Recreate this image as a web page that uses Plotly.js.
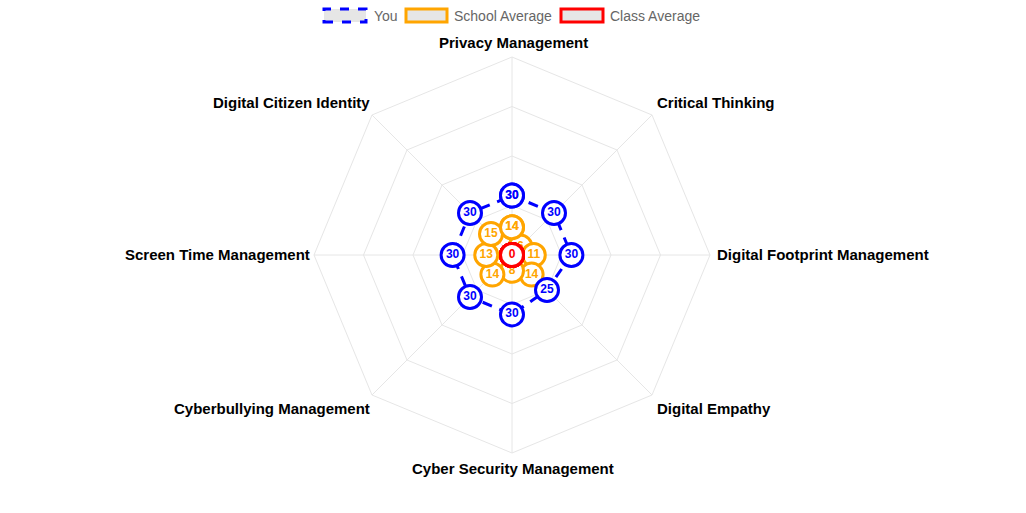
<!DOCTYPE html>
<html><head><meta charset="utf-8">
<script src="https://cdn.plot.ly/plotly-3.0.1.min.js"></script>
<style>html,body{margin:0;padding:0;background:#fff}#chart{width:1026px;height:513px}</style>
</head><body><div id="chart"></div>
<script>
const categories = ["Privacy Management","Critical Thinking","Digital Footprint Management","Digital Empathy","Cyber Security Management","Cyberbullying Management","Screen Time Management","Digital Citizen Identity"];
const youValues = [30,30,30,25,30,30,30,30];
const schoolValues = [14,6,11,14,8,14,13,15];
const classValues = [0,0,0,0,0,0,0,0];
const seriesNames = ["You","School Average","Class Average"];

const FONT='Liberation Sans, Arial, sans-serif';
function closed(a){return a.concat([a[0]]);}
function mk(vals,color,dash,sp,onlyFirstText){
  const txt=closed(vals).map((v,i)=>(onlyFirstText&&i>0)?'':String(v));
  return {
    type:'scatterpolar', subplot:sp||'polar', r:closed(vals), theta:closed(categories),
    mode:'lines+markers+text', text:txt, textposition:'middle center',
    textfont:{family:FONT, size:12, color:color, weight:'bold'},
    line:{color:color, width:3, dash:dash||'solid'},
    marker:{size:23, color:'#fff', line:{color:color, width:3}},
    cliponaxis:false, showlegend:false, hoverinfo:'r+theta'
  };
}
const traces = [
  mk(schoolValues,'orange'),
  mk(youValues,'blue','10px,8px'),
  mk(classValues,'red',null,'polar2',true)
];
const cx=512, cy=255, R=198, W=1026, H=513;
const gridc='#e6e6e6';
const legendItems=[
  {x0:324,x1:366,color:'blue',dash:'dash',tx:372},
  {x0:406,x1:447,color:'orange',dash:'solid',tx:452},
  {x0:561,x1:603,color:'red',dash:'solid',tx:608}
];
const shapes=legendItems.map(it=>({type:'rect',xref:'paper',yref:'paper',
  x0:it.x0/W,x1:it.x1/W,y0:1-22/H,y1:1-9/H,fillcolor:'#e6e6e6',
  line:{color:it.color,width:3,dash:it.dash}}));
const annotations=legendItems.map((it,i)=>({xref:'paper',yref:'paper',x:it.tx/W,y:1-16/H,
  xanchor:'left',yanchor:'middle',showarrow:false,text:seriesNames[i],
  font:{family:FONT,size:14,color:'#666'}}));
categories.forEach((c,i)=>{
  const a=(90-i*360/categories.length)*Math.PI/180;
  const d=R+7;
  const ca=Math.cos(a), sa=Math.sin(a);
  const xa=Math.abs(ca)<0.01?'center':(ca>0?'left':'right');
  const ya=Math.abs(sa)<0.01?'middle':(sa>0?'bottom':'top');
  const dx={center:1,left:-1,right:4}[xa];
  const dy={middle:-1,bottom:2,top:-1}[ya];
  const px=cx+d*ca+dx, py=cy-d*sa+dy;
  annotations.push({xref:'paper',yref:'paper',x:px/W,y:1-py/H,xanchor:xa,yanchor:ya,
    showarrow:false,text:'<b>'+c+'</b>',borderpad:0,
    font:{family:FONT,size:15,color:'#000'}});
});
const dom={x:[(cx-R)/W,(cx+R)/W], y:[(H-cy-R)/H,(H-cy+R)/H]};
const layout={
  width:W,height:H,margin:{l:0,r:0,t:0,b:0},paper_bgcolor:'#fff',showlegend:false,
  shapes:shapes, annotations:annotations,
  polar:{
    domain:dom, gridshape:'linear', bgcolor:'rgba(0,0,0,0)',
    radialaxis:{range:[0,100],tickvals:[25,50,75,100],showticklabels:false,ticks:'',
      showline:false,gridcolor:gridc,gridwidth:1},
    angularaxis:{rotation:90,direction:'clockwise',showline:true,linecolor:gridc,linewidth:1,
      gridcolor:gridc,ticks:'',showticklabels:false}
  },
  polar2:{
    domain:dom, gridshape:'circular', bgcolor:'rgba(0,0,0,0)',
    radialaxis:{range:[0,100],showgrid:false,showticklabels:false,ticks:'',showline:false},
    angularaxis:{categoryarray:categories,categoryorder:'array',rotation:90,direction:'clockwise',
      showgrid:false,showline:false,ticks:'',showticklabels:false}
  }
};
Plotly.newPlot('chart',traces,layout,{displayModeBar:false,staticPlot:true});
</script></body></html>
